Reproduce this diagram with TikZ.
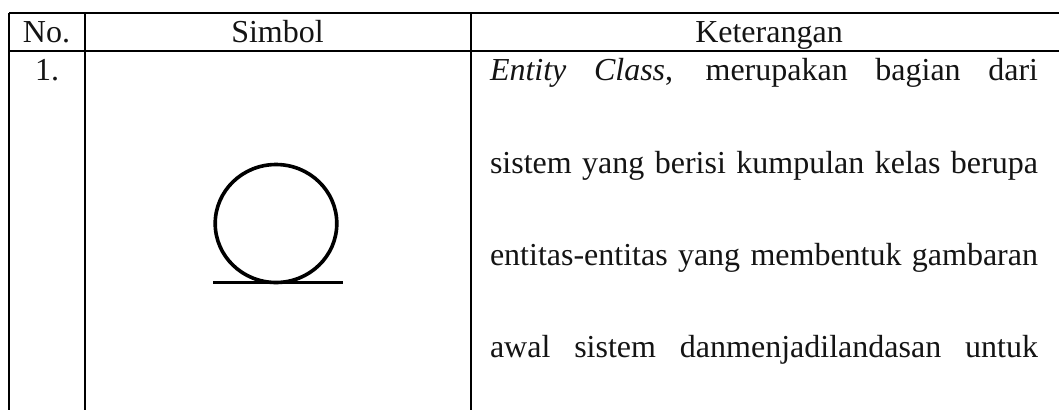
\documentclass[tikz,border=0pt]{standalone}
\usepackage{fontspec}
\setmainfont{Liberation Serif}
\tikzset{
  px/.style={x=1pt,y=-1pt},
  rule/.style={draw=black,line width=2pt},
  symb/.style={draw=black,line width=3.6pt},
  txt/.style={inner sep=0pt,outer sep=0pt,anchor=base west,font=\fontsize{32}{36}\selectfont,text=black!92},
  mid/.style={inner sep=0pt,outer sep=0pt,anchor=base,font=\fontsize{32}{36}\selectfont,text=black!92}
}
\newcommand{\jline}[1]{\hbox to 548pt{#1}}
\begin{document}
\begin{tikzpicture}[px]
\useasboundingbox (0,0) rectangle (1059,410);
\fill[white] (0,0) rectangle (1059,410);
% table rules
\coordinate (tl) at (9,13);
\coordinate (tr) at (1059,13);
\coordinate (hl) at (9,51);
\coordinate (hr) at (1059,51);
\coordinate (b1) at (9,410);
\coordinate (t2) at (85,13);
\coordinate (b2) at (85,410);
\coordinate (t3) at (471,13);
\coordinate (b3) at (471,410);
\draw[rule] (tl) -- (tr);
\draw[rule] (hl) -- (hr);
\draw[rule] (tl) -- (b1);
\draw[rule] (t2) -- (b2);
\draw[rule] (t3) -- (b3);
% header
\node[mid] (hno) at (46.5,42.5) {No.};
\node[mid] (hsim) at (277.5,42.5) {Simbol};
\node[mid] (hket) at (769,42.5) {Keterangan};
% row
\node[mid] (n1) at (47,80) {1.};
\node[txt] (l1) at (490,80) {\jline{\textit{Entity Class}, merupakan bagian dari}};
\node[txt] (l2) at (490,173) {\jline{sistem yang berisi kumpulan kelas berupa}};
\node[txt] (l3) at (490,265) {\jline{entitas-entitas yang membentuk gambaran}};
\node[txt] (l4) at (490,357) {\jline{awal sistem danmenjadilandasan untuk}};
% entity symbol
\coordinate (cc) at (276,223.5);
\coordinate (ula) at (213,282.5);
\coordinate (ulb) at (342.7,282.5);
\draw[symb] (cc) ellipse[x radius=60.8,y radius=59];
\draw[symb] (ula) -- (ulb);
\end{tikzpicture}
\end{document}
